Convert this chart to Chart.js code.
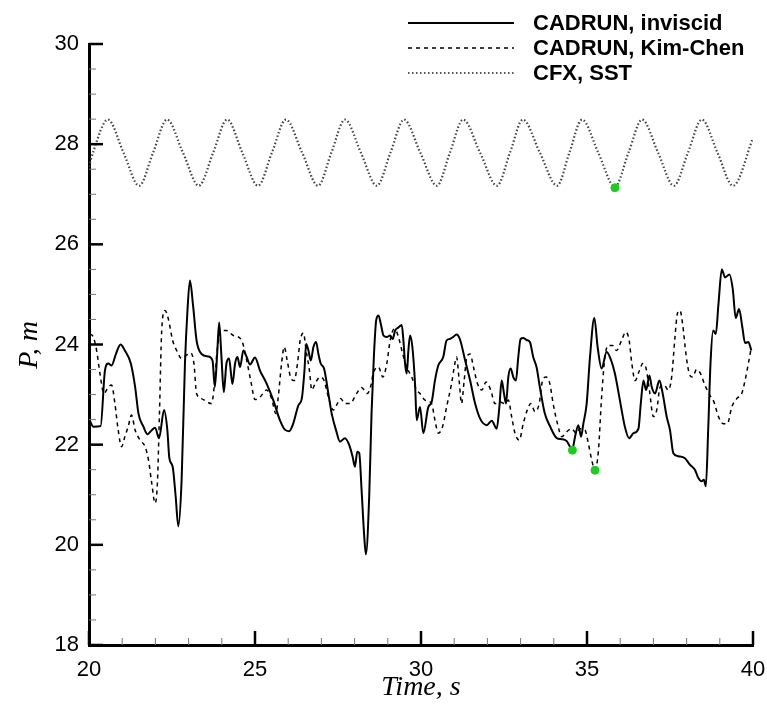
<!DOCTYPE html>
<html>
<head>
<meta charset="utf-8">
<script src="https://cdn.jsdelivr.net/npm/chart.js@4.4.0/dist/chart.umd.min.js"></script>
<style>
  body { margin: 0; background: #fff; }
  #wrap { width: 767px; height: 705px; }
</style>
</head>
<body>
<div id="wrap"><canvas id="pressureChart" width="767" height="705"></canvas></div>
<script>
// tick labels
const xTicks = [20, 25, 30, 35, 40];
const yTicks = [18, 20, 22, 24, 26, 28, 30];

// CADRUN, inviscid (solid)
const invTime = [20.00, 20.13, 20.35, 20.48, 20.58, 20.68, 20.81, 20.95, 21.08, 21.26, 21.39, 21.49, 21.64, 21.76, 21.89, 21.99, 22.11, 22.26, 22.36, 22.42, 22.52, 22.61, 22.69, 22.79, 22.89, 22.96, 23.04, 23.14, 23.24, 23.39, 23.59, 23.72, 23.79, 23.86, 23.92, 23.99, 24.06, 24.14, 24.22, 24.32, 24.40, 24.47, 24.55, 24.65, 24.75, 24.85, 25.00, 25.15, 25.35, 25.55, 25.75, 25.90, 26.03, 26.15, 26.31, 26.41, 26.49, 26.54, 26.61, 26.68, 26.76, 26.84, 26.91, 26.98, 27.08, 27.21, 27.31, 27.44, 27.56, 27.71, 27.84, 27.94, 28.01, 28.08, 28.14, 28.21, 28.29, 28.34, 28.44, 28.51, 28.58, 28.65, 28.72, 28.79, 28.87, 28.97, 29.07, 29.15, 29.22, 29.32, 29.42, 29.47, 29.52, 29.57, 29.62, 29.67, 29.74, 29.82, 29.87, 29.97, 30.07, 30.22, 30.32, 30.42, 30.52, 30.67, 30.77, 30.87, 30.97, 31.07, 31.17, 31.33, 31.48, 31.63, 31.78, 31.98, 32.13, 32.28, 32.36, 32.43, 32.50, 32.56, 32.63, 32.70, 32.78, 32.86, 32.93, 33.00, 33.08, 33.18, 33.28, 33.38, 33.48, 33.58, 33.73, 33.89, 34.09, 34.24, 34.39, 34.49, 34.56, 34.64, 34.74, 34.82, 34.89, 34.99, 35.09, 35.22, 35.32, 35.44, 35.59, 35.69, 35.84, 35.99, 36.14, 36.27, 36.40, 36.55, 36.62, 36.70, 36.78, 36.88, 36.95, 37.05, 37.18, 37.28, 37.40, 37.50, 37.60, 37.75, 37.95, 38.10, 38.25, 38.35, 38.45, 38.52, 38.58, 38.65, 38.72, 38.80, 38.88, 38.96, 39.06, 39.16, 39.29, 39.39, 39.48, 39.58, 39.68, 39.76, 39.86, 39.95];
const invP = [22.52, 22.36, 22.37, 23.48, 23.62, 23.58, 23.81, 24.00, 23.88, 23.62, 23.15, 22.62, 22.36, 22.21, 22.29, 22.34, 22.13, 22.69, 22.29, 21.73, 21.56, 20.97, 20.37, 21.30, 23.62, 24.61, 25.28, 24.74, 24.08, 23.81, 23.76, 23.68, 23.15, 23.81, 24.44, 23.75, 23.05, 23.62, 23.72, 23.21, 23.62, 23.75, 23.55, 23.88, 23.75, 23.60, 23.74, 23.48, 23.22, 22.89, 22.49, 22.30, 22.27, 22.42, 22.79, 22.92, 23.48, 24.01, 23.88, 23.68, 23.95, 24.05, 23.81, 23.62, 23.52, 23.02, 22.62, 22.29, 22.06, 22.13, 21.99, 21.76, 21.56, 21.86, 21.83, 21.10, 20.17, 19.81, 20.97, 22.62, 23.75, 24.48, 24.58, 24.41, 24.18, 24.15, 24.18, 24.11, 24.28, 24.34, 24.39, 24.08, 23.62, 23.42, 23.88, 24.18, 23.95, 23.22, 22.49, 22.75, 22.23, 22.75, 22.85, 23.28, 23.58, 23.75, 24.08, 24.11, 24.15, 24.20, 24.11, 23.68, 23.28, 22.82, 22.52, 22.39, 22.48, 22.32, 22.75, 23.28, 23.02, 22.82, 23.35, 23.52, 23.35, 23.28, 23.75, 24.11, 24.13, 24.09, 24.05, 23.75, 23.55, 23.15, 22.62, 22.36, 22.13, 22.11, 22.07, 21.96, 21.91, 22.16, 22.39, 22.16, 22.42, 22.82, 23.75, 24.53, 23.95, 23.52, 23.85, 23.75, 23.42, 22.89, 22.36, 22.13, 22.23, 22.32, 22.82, 23.28, 23.09, 23.38, 23.15, 23.02, 23.28, 23.02, 22.56, 22.29, 21.83, 21.77, 21.73, 21.60, 21.50, 21.34, 21.27, 21.30, 21.17, 22.29, 23.62, 24.28, 24.21, 24.81, 25.50, 25.34, 25.40, 25.11, 24.53, 24.71, 24.34, 24.03, 24.05, 23.88];

// CADRUN, Kim-Chen (dashed)
const kimTime = [20.03, 20.13, 20.23, 20.33, 20.45, 20.58, 20.68, 20.78, 20.88, 20.98, 21.08, 21.18, 21.28, 21.39, 21.54, 21.69, 21.79, 21.89, 21.99, 22.06, 22.12, 22.19, 22.29, 22.39, 22.52, 22.64, 22.79, 22.92, 23.07, 23.16, 23.24, 23.39, 23.54, 23.69, 23.77, 23.86, 23.99, 24.14, 24.35, 24.60, 24.75, 24.88, 25.00, 25.15, 25.35, 25.50, 25.63, 25.70, 25.80, 25.88, 25.97, 26.07, 26.18, 26.28, 26.36, 26.46, 26.54, 26.64, 26.71, 26.81, 26.96, 27.08, 27.21, 27.36, 27.48, 27.58, 27.71, 27.86, 28.06, 28.21, 28.38, 28.48, 28.56, 28.72, 28.85, 28.97, 29.07, 29.19, 29.27, 29.35, 29.45, 29.57, 29.72, 29.87, 29.97, 30.12, 30.32, 30.42, 30.52, 30.65, 30.77, 30.92, 31.02, 31.07, 31.15, 31.22, 31.30, 31.38, 31.48, 31.58, 31.70, 31.83, 31.96, 32.10, 32.23, 32.38, 32.53, 32.63, 32.73, 32.83, 32.96, 33.08, 33.20, 33.31, 33.43, 33.56, 33.66, 33.77, 33.88, 33.98, 34.11, 34.24, 34.39, 34.54, 34.67, 34.79, 34.94, 35.04, 35.14, 35.24, 35.34, 35.44, 35.54, 35.64, 35.77, 35.89, 36.04, 36.17, 36.27, 36.35, 36.45, 36.58, 36.68, 36.78, 36.88, 37.00, 37.10, 37.20, 37.32, 37.45, 37.55, 37.65, 37.72, 37.80, 37.88, 37.98, 38.08, 38.18, 38.30, 38.42, 38.55, 38.70, 38.82, 38.96, 39.11, 39.23, 39.36, 39.51, 39.66, 39.76, 39.86, 39.94];
const kimP = [24.21, 24.15, 23.88, 23.42, 23.02, 23.15, 23.19, 22.82, 22.29, 21.96, 22.16, 22.36, 22.59, 22.29, 22.09, 21.96, 21.70, 21.23, 20.83, 21.23, 22.56, 24.28, 24.68, 24.51, 24.08, 23.88, 23.72, 23.78, 23.83, 23.62, 23.02, 22.92, 22.86, 22.82, 23.15, 23.88, 24.28, 24.28, 24.18, 24.08, 23.68, 23.25, 22.90, 22.95, 23.09, 22.92, 22.62, 22.95, 23.62, 23.95, 23.68, 23.35, 23.28, 23.62, 24.08, 24.23, 23.88, 23.48, 23.09, 23.22, 23.35, 23.28, 22.95, 22.69, 22.82, 22.92, 22.82, 22.82, 23.02, 23.14, 23.02, 23.15, 23.42, 23.55, 23.35, 23.62, 24.08, 24.31, 24.25, 24.08, 23.81, 23.55, 23.35, 23.09, 23.02, 22.89, 22.82, 22.49, 22.23, 22.36, 22.75, 23.22, 23.62, 23.75, 23.28, 22.82, 23.28, 23.75, 23.81, 23.55, 23.22, 23.09, 23.25, 23.09, 22.82, 22.85, 22.82, 22.89, 22.56, 22.23, 22.09, 22.42, 22.69, 22.82, 22.66, 22.82, 23.28, 23.35, 23.22, 22.82, 22.42, 22.16, 22.26, 22.32, 22.23, 22.32, 22.29, 22.03, 21.70, 21.50, 21.85, 22.95, 23.75, 23.98, 23.98, 23.88, 24.08, 24.25, 24.08, 23.62, 23.28, 23.48, 23.62, 23.52, 23.09, 22.56, 22.69, 23.15, 23.19, 23.09, 23.35, 24.15, 24.61, 24.68, 24.41, 23.81, 23.42, 23.35, 23.50, 23.42, 23.19, 22.99, 22.86, 22.56, 22.42, 22.42, 22.75, 22.92, 23.02, 23.28, 23.62, 23.91];

// CFX, SST (dotted) - peaks, troughs and mid crossings
const cfxTime = [20.00, 20.12, 20.57, 21.04, 21.51, 21.93, 22.35, 22.83, 23.31, 23.74, 24.16, 24.62, 25.09, 25.51, 25.93, 26.42, 26.90, 27.30, 27.71, 28.19, 28.67, 29.08, 29.49, 29.98, 30.48, 30.87, 31.27, 31.78, 32.29, 32.68, 33.07, 33.58, 34.10, 34.47, 34.85, 35.34, 35.84, 36.25, 36.66, 37.14, 37.62, 38.04, 38.46, 38.93, 39.40, 40.00];
const cfxP = [27.55, 27.83, 28.49, 27.83, 27.17, 27.83, 28.49, 27.83, 27.17, 27.83, 28.49, 27.83, 27.17, 27.83, 28.49, 27.83, 27.17, 27.83, 28.49, 27.83, 27.17, 27.83, 28.49, 27.83, 27.17, 27.83, 28.49, 27.83, 27.17, 27.83, 28.49, 27.83, 27.17, 27.83, 28.49, 27.83, 27.15, 27.83, 28.49, 27.83, 27.17, 27.83, 28.49, 27.83, 27.17, 28.12];

// green markers
const markTime = [34.56, 35.24, 35.84];
const markP = [21.89, 21.49, 27.13];

const toXY = (xs, ys) => xs.map((x, i) => ({ x: x, y: ys[i] }));

const px = {
  left: 89, right: 753, top: 44, bottom: 645
};

// inward ticks, legend and axis titles
const decorPlugin = {
  id: 'decor',
  afterDraw(chart) {
    const ctx = chart.ctx;
    const xs = chart.scales.x;
    const ys = chart.scales.y;
    const area = chart.chartArea;
    ctx.save();
    ctx.strokeStyle = '#000';
    // x ticks
    for (let v = 20; v <= 40; v += 1) {
      const x = xs.getPixelForValue(v);
      const major = v % 5 === 0;
      ctx.lineWidth = major ? 2.5 : 1;
      ctx.strokeStyle = major ? '#000' : '#777';
      ctx.beginPath();
      ctx.moveTo(x, area.bottom);
      ctx.lineTo(x, area.bottom - (major ? 14 : 7));
      ctx.stroke();
    }
    // y ticks
    for (let v = 18; v <= 30; v += 0.5) {
      const y = ys.getPixelForValue(v);
      const major = v % 2 === 0;
      ctx.lineWidth = major ? 2.5 : 1;
      ctx.strokeStyle = major ? '#000' : '#777';
      ctx.beginPath();
      ctx.moveTo(area.left, y);
      ctx.lineTo(area.left + (major ? 14 : 7), y);
      ctx.stroke();
    }
    // legend
    const rows = [
      { label: 'CADRUN, inviscid', dash: [], color: '#000', width: 2 },
      { label: 'CADRUN, Kim-Chen', dash: [4, 4], color: '#000', width: 1.5 },
      { label: 'CFX, SST', dash: [1.5, 2.5], color: '#555', width: 2 }
    ];
    ctx.font = 'bold 22px "Liberation Sans", Arial, sans-serif';
    ctx.textBaseline = 'middle';
    ctx.textAlign = 'left';
    rows.forEach((r, i) => {
      const y = 23 + i * 25;
      ctx.setLineDash(r.dash);
      ctx.lineWidth = r.width;
      ctx.strokeStyle = r.color;
      ctx.beginPath();
      ctx.moveTo(408, y);
      ctx.lineTo(514, y);
      ctx.stroke();
      ctx.setLineDash([]);
      ctx.fillStyle = '#000';
      ctx.fillText(r.label, 533, y + 1);
    });
    // axis titles
    ctx.font = 'italic 28px "Liberation Serif", "Times New Roman", serif';
    ctx.textAlign = 'center';
    ctx.fillText('Time, s', 421, 688);
    ctx.translate(30, 345);
    ctx.rotate(-Math.PI / 2);
    ctx.fillText('P, m', 0, 0);
    ctx.restore();
  }
};

const pressureChart = new Chart(document.getElementById('pressureChart'), {
  type: 'line',
  data: {
    datasets: [
      {
        label: 'markers',
        type: 'scatter',
        data: toXY(markTime, markP),
        backgroundColor: '#1ecb1e',
        borderColor: '#1ecb1e',
        pointRadius: 4,
        showLine: false,
        order: 0
      },
      {
        label: 'CADRUN, inviscid',
        data: toXY(invTime, invP),
        borderColor: '#000',
        borderWidth: 2,
        pointRadius: 0,
        cubicInterpolationMode: 'monotone',
        order: 3
      },
      {
        label: 'CADRUN, Kim-Chen',
        data: toXY(kimTime, kimP),
        borderColor: '#000',
        borderWidth: 1.5,
        borderDash: [4, 4],
        pointRadius: 0,
        cubicInterpolationMode: 'monotone',
        order: 2
      },
      {
        label: 'CFX, SST',
        data: toXY(cfxTime, cfxP),
        borderColor: '#444',
        borderWidth: 2.2,
        borderDash: [1.5, 2.2],
        pointRadius: 0,
        cubicInterpolationMode: 'monotone',
        order: 1
      }
    ]
  },
  options: {
    responsive: false,
    animation: false,
    layout: { padding: { top: px.top, right: 767 - px.right, left: 0, bottom: 0 } },
    plugins: {
      legend: { display: false },
      tooltip: { enabled: false }
    },
    scales: {
      x: {
        type: 'linear',
        min: 20,
        max: 40,
        afterBuildTicks: (s) => { s.ticks = xTicks.map(v => ({ value: v })); },
        afterFit: (s) => { s.height = 705 - px.bottom; s.paddingLeft = 0; s.paddingRight = 0; },
        grid: { display: false, drawTicks: false },
        border: { display: true, color: '#000', width: 3 },
        ticks: { color: '#000', padding: 12, maxRotation: 0, font: { family: '"Liberation Sans", Arial, sans-serif', size: 22 } }
      },
      y: {
        min: 18,
        max: 30,
        afterBuildTicks: (s) => { s.ticks = yTicks.map(v => ({ value: v })); },
        afterFit: (s) => { s.width = px.left; s.paddingTop = 0; s.paddingBottom = 0; },
        grid: { display: false, drawTicks: false },
        border: { display: true, color: '#000', width: 3 },
        ticks: { color: '#000', padding: 10, font: { family: '"Liberation Sans", Arial, sans-serif', size: 22 } }
      }
    }
  },
  plugins: [decorPlugin]
});
</script>
</body>
</html>
